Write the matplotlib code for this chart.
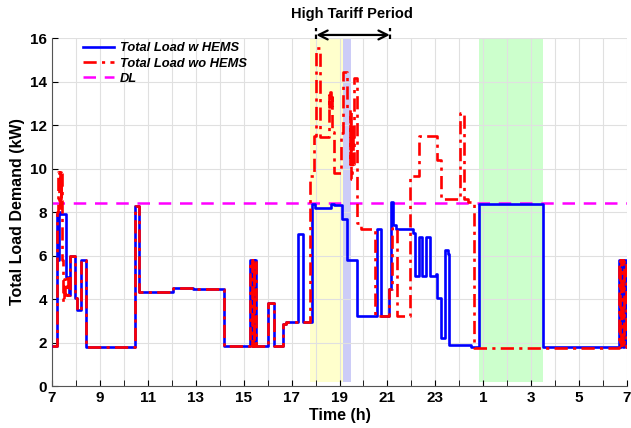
import numpy as np
import matplotlib.pyplot as plt

plt.rcParams["font.family"] = ["Liberation Sans", "DejaVu Sans"]

# time axis runs 7 h -> 31 h (next day 7 h)
blue_t = [7.0, 7.22, 7.26, 7.29, 7.33, 7.57, 7.70, 7.75, 7.94, 8.03, 8.21, 8.40,
          10.46, 10.64, 12.04, 12.9, 14.18, 15.27, 15.35, 15.37, 15.43, 15.45, 15.52,
          16.03, 16.25, 16.64, 16.77, 17.27, 17.47, 17.84, 17.96, 18.65, 18.79, 19.12,
          19.32, 19.72, 20.55, 20.74, 21.08, 21.13, 21.25, 21.36, 22.05, 22.15, 22.3,
          22.45, 22.61, 22.78, 23.03, 23.06, 23.24, 23.4, 23.51, 23.58, 24.49, 24.82,
          27.5, 30.65, 30.72, 30.75, 30.83, 30.86, 30.95, 31.0]
blue_kw = [1.85, 7.9, 5.8, 8.0, 7.9, 5.0, 4.2, 6.0, 4.05, 3.5, 5.8, 1.8,
           8.28, 4.3, 4.5, 4.47, 1.85, 5.8, 1.85, 5.8, 1.85, 5.8, 1.85,
           3.8, 1.85, 2.87, 2.96, 6.97, 2.96, 8.35, 8.17, 8.37, 8.3, 7.68,
           5.8, 3.22, 7.2, 3.22, 4.46, 8.45, 7.4, 7.2, 7.05, 5.05, 6.87,
           5.05, 6.87, 5.05, 5.15, 4.03, 2.19, 6.25, 6.07, 1.88, 1.81, 8.37,
           1.78, 5.8, 1.8, 5.8, 1.8, 5.8, 1.8, 1.8]

red_t = [7.0, 7.22, 7.26, 7.29, 7.32, 7.36, 7.39, 7.42, 7.45, 7.50, 7.55, 7.62,
         7.68, 7.75, 7.94, 8.03, 8.21, 8.40, 10.46, 10.64, 12.04, 12.9, 14.18,
         15.27, 15.35, 15.37, 15.43, 15.45, 15.52, 16.03, 16.25, 16.64, 16.77,
         17.78, 17.92, 18.03, 18.2, 18.55, 18.58, 18.61, 18.64, 18.67, 18.70,
         18.79, 19.07, 19.15, 19.3, 19.42, 19.45, 19.49, 19.52, 19.55, 19.59,
         19.73, 19.9, 20.5, 21.08, 21.18, 21.38, 21.95, 22.3, 23.07, 23.24,
         24.03, 24.2, 24.35, 24.63, 30.65, 30.72, 30.75, 30.83, 30.86, 30.95, 31.0]
red_kw = [1.85, 8.0, 9.85, 8.2, 9.85, 8.3, 9.85, 5.8, 3.85, 4.9, 4.2, 4.95,
          4.2, 6.0, 4.05, 3.5, 5.8, 1.8, 8.28, 4.3, 4.5, 4.47, 1.85,
          5.8, 1.85, 5.8, 1.85, 5.8, 1.85, 3.8, 1.85, 2.87, 2.96,
          9.66, 11.5, 15.52, 11.46, 13.4, 12.7, 13.5, 12.8, 13.3, 11.7,
          9.78, 11.62, 14.45, 12.75, 10.2, 12.6, 9.5, 12.0, 10.2, 14.15,
          7.5, 7.2, 3.22, 4.46, 7.25, 3.22, 9.66, 11.49, 10.39, 8.58,
          12.57, 8.58, 8.47, 1.75, 5.8, 1.8, 5.8, 1.8, 5.8, 1.8, 1.8]

DL = 8.4
tick_hours = [7, 9, 11, 13, 15, 17, 19, 21, 23, 25, 27, 29, 31]
tick_labels = [str(h % 24) for h in tick_hours]

fig = plt.figure(figsize=(6.31, 4.28), dpi=100)
ax = fig.add_axes([0.0824, 0.0981, 0.9113, 0.8131])

# shaded periods
ax.fill_between([17.78, 19.14], 0.2, 15.95, color="#FFFFCC", lw=0, zorder=0)
ax.fill_between([19.14, 19.5], 0.2, 15.95, color="#CCCCF7", lw=0, zorder=0)
ax.fill_between([24.83, 27.5], 0.2, 15.95, color="#CCFFCC", lw=0, zorder=0)

ax.step(blue_t, blue_kw, where="post", color="#0000FF", lw=1.9, zorder=3,
        label="Total Load w HEMS")
ax.step(red_t, red_kw, where="post", color="#FF0000", lw=1.9, ls=(0, (5, 2, 1.2, 2)),
        zorder=4, label="Total Load wo HEMS")
ax.axhline(DL, color="#FF00FF", lw=1.8, ls=(0, (5, 3.5)), zorder=2, label="DL")

ax.set_xlim(7, 31)
ax.set_ylim(0, 16)
ax.set_xticks(tick_hours)
ax.set_xticklabels(tick_labels)
ax.set_xticks(np.arange(7, 32, 1), minor=True)
ax.set_yticks(np.arange(0, 17, 2))
ax.grid(True, which="both", axis="x", color="#E0E0E0", lw=0.8, zorder=0)
ax.grid(True, which="major", axis="y", color="#E0E0E0", lw=0.8, zorder=0)
ax.set_axisbelow(True)
ax.tick_params(direction="in", length=4, which="both", labelsize=11)
for lab in ax.get_xticklabels() + ax.get_yticklabels():
    lab.set_fontweight("bold")
for s in ["top", "right"]:
    ax.spines[s].set_visible(False)
for s in ["left", "bottom"]:
    ax.spines[s].set_color("#555555")

ax.set_xlabel("Time (h)", fontsize=11.5, fontweight="bold", labelpad=2)
ax.set_ylabel("Total Load Demand (kW)", fontsize=11.5, fontweight="bold", labelpad=4)

leg = ax.legend(loc="upper left", frameon=False, handlelength=2.4, fontsize=9.3,
                bbox_to_anchor=(0.04, 1.01), borderaxespad=0.2, labelspacing=0.25,
                handletextpad=0.5)
for t in leg.get_texts():
    t.set_fontweight("bold")
    t.set_fontstyle("italic")

# high tariff period arrow
ax.annotate("", xy=(18.03, 16.14), xytext=(21.1, 16.14),
            arrowprops=dict(arrowstyle="<->", color="black", lw=1.6,
                            mutation_scale=16, shrinkA=0, shrinkB=0),
            annotation_clip=False)
for xe in [18.03, 21.1]:
    ax.plot([xe, xe], [15.95, 16.45], color="black", lw=1.6, ls=(0, (2, 1.5)),
            clip_on=False)
ax.text(19.5, 17.1, "High Tariff Period", ha="center", va="center",
        fontsize=10.5, fontweight="bold")

fig.savefig("out.png", dpi=100)
